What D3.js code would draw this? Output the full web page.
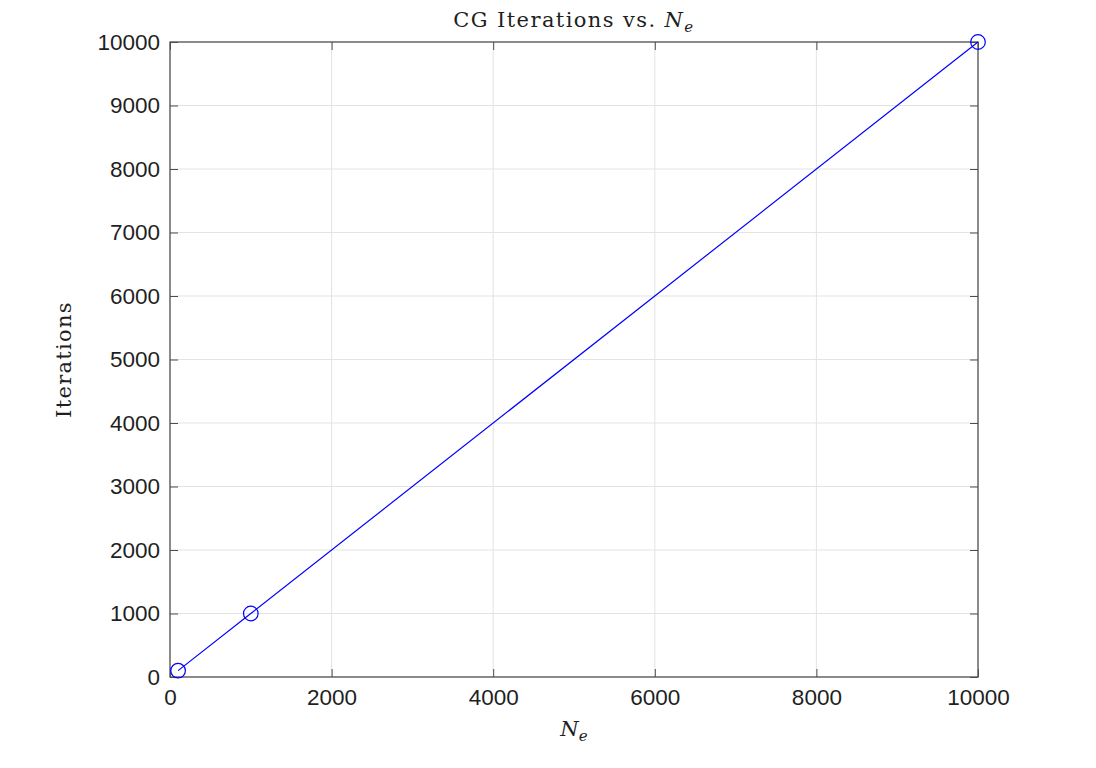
<!DOCTYPE html>
<html>
<head>
<meta charset="utf-8">
<script src="https://cdn.jsdelivr.net/npm/d3@7"></script>
<style>
  body { margin: 0; background: #fff; }
  .tick text { font-family: "Liberation Sans", Arial, sans-serif; }
</style>
</head>
<body>
<div id="chart"></div>
<script>
// data
var elements = [100, 1000, 10000]
var iterations = [100, 1000, 10000]
var xTicks = [0, 2000, 4000, 6000, 8000, 10000]
var yTicks = [0, 1000, 2000, 3000, 4000, 5000, 6000, 7000, 8000, 9000, 10000]

var width = 1096
var height = 768
var margin = { top: 42, right: 118, bottom: 91, left: 170 }
var plotW = width - margin.left - margin.right
var plotH = height - margin.top - margin.bottom

var axisColor = '#4d4d4d'
var textColor = '#1f1f1f'

var svg = d3.select('#chart').append('svg')
    .attr('width', width)
    .attr('height', height)

var g = svg.append('g')
    .attr('transform', 'translate(' + margin.left + ',' + margin.top + ')')

var x = d3.scaleLinear().domain([0, 10000]).range([0, plotW])
var y = d3.scaleLinear().domain([0, 10000]).range([plotH, 0])

// grid
g.append('g').selectAll('line')
    .data(xTicks.slice(1, -1))
    .enter().append('line')
    .attr('x1', function (d) { return x(d) })
    .attr('x2', function (d) { return x(d) })
    .attr('y1', 0)
    .attr('y2', plotH)
    .attr('stroke', '#e3e3e3')
    .attr('stroke-width', 1)

g.append('g').selectAll('line')
    .data(yTicks.slice(1, -1))
    .enter().append('line')
    .attr('x1', 0)
    .attr('x2', plotW)
    .attr('y1', function (d) { return y(d) })
    .attr('y2', function (d) { return y(d) })
    .attr('stroke', '#e3e3e3')
    .attr('stroke-width', 1)

// axes, ticks pointing inward like matlab
function styleAxis(sel) {
    sel.select('.domain').remove()
    sel.selectAll('.tick line').attr('stroke', axisColor).attr('stroke-width', 1)
    sel.selectAll('.tick text').attr('fill', textColor).attr('font-size', 22.5)
}

var xAxis = g.append('g')
    .attr('transform', 'translate(0,' + plotH + ')')
    .call(d3.axisBottom(x).tickValues(xTicks).tickSize(-8).tickPadding(12).tickFormat(d3.format('d')))
styleAxis(xAxis)
xAxis.selectAll('.tick text').attr('dy', '0.71em')

var yAxis = g.append('g')
    .call(d3.axisLeft(y).tickValues(yTicks).tickSize(-8).tickPadding(10).tickFormat(d3.format('d')))
styleAxis(yAxis)

g.append('g')
    .call(d3.axisTop(x).tickValues(xTicks).tickSize(-8).tickFormat(''))
    .call(styleAxis)

g.append('g')
    .attr('transform', 'translate(' + plotW + ',0)')
    .call(d3.axisRight(y).tickValues(yTicks).tickSize(-8).tickFormat(''))
    .call(styleAxis)

// box
g.append('rect')
    .attr('width', plotW)
    .attr('height', plotH)
    .attr('fill', 'none')
    .attr('stroke', axisColor)
    .attr('stroke-width', 1.3)

// series
var points = elements.map(function (e, i) { return { x: e, y: iterations[i] } })

var line = d3.line()
    .x(function (d) { return x(d.x) })
    .y(function (d) { return y(d.y) })

g.append('path')
    .datum(points)
    .attr('d', line)
    .attr('fill', 'none')
    .attr('stroke', '#0000ff')
    .attr('stroke-width', 1.2)

g.selectAll('circle.pt')
    .data(points)
    .enter().append('circle')
    .attr('class', 'pt')
    .attr('cx', function (d) { return x(d.x) })
    .attr('cy', function (d) { return y(d.y) })
    .attr('r', 7.3)
    .attr('fill', 'none')
    .attr('stroke', '#0000ff')
    .attr('stroke-width', 1.2)

// labels
var serif = '"DejaVu Serif", "Liberation Serif", serif'

var title = svg.append('text')
    .attr('x', margin.left + plotW / 2)
    .attr('y', 27)
    .attr('text-anchor', 'middle')
    .attr('font-family', serif)
    .attr('font-size', 21)
    .attr('letter-spacing', 1.4)
    .attr('fill', textColor)
title.append('tspan').text('CG Iterations vs.  ')
title.append('tspan').attr('font-style', 'italic').text('N')
title.append('tspan').attr('font-style', 'italic').attr('font-size', 15).attr('dy', 5).text('e')

var xlab = svg.append('text')
    .attr('x', margin.left + plotW / 2)
    .attr('y', 736)
    .attr('text-anchor', 'middle')
    .attr('font-family', serif)
    .attr('font-size', 21)
    .attr('fill', textColor)
xlab.append('tspan').attr('font-style', 'italic').text('N')
xlab.append('tspan').attr('font-style', 'italic').attr('font-size', 15).attr('dy', 5).text('e')

svg.append('text')
    .attr('transform', 'translate(71,' + (margin.top + plotH / 2) + ') rotate(-90)')
    .attr('text-anchor', 'middle')
    .attr('font-family', serif)
    .attr('font-size', 21)
    .attr('letter-spacing', 1.3)
    .attr('fill', textColor)
    .text('Iterations')
</script>
</body>
</html>
